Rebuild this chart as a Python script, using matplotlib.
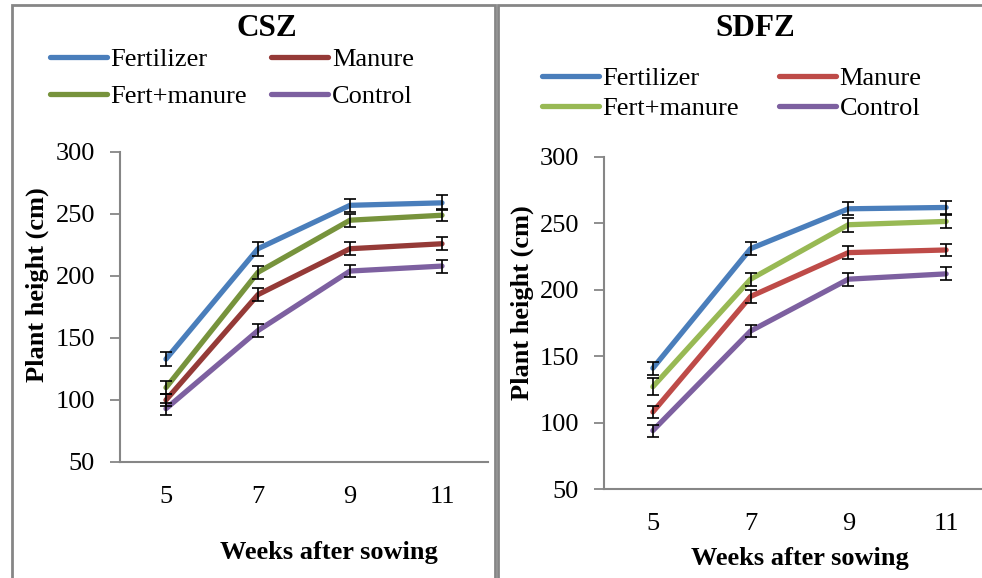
import numpy as np
import matplotlib
matplotlib.use("Agg")
import matplotlib.pyplot as plt
from matplotlib.patches import Rectangle

plt.rcParams['font.family'] = ['Liberation Serif', 'DejaVu Serif']

# Weeks after sowing
weeks = ['5', '7', '9', '11']
series = ['Fertilizer', 'Manure', 'Fert+manure', 'Control']

# CSZ plant height (cm) and error
csz_fert = [133, 222, 257, 259]
csz_manure = [100, 185, 222, 226]
csz_fm = [110, 203, 245, 249]
csz_control = [93, 156, 204, 208]
csz_fert_err = [5.8, 5.8, 5.4, 6.0]
csz_manure_err = [5.0, 5.1, 5.1, 5.1]
csz_fm_err = [5.4, 5.1, 5.1, 5.0]
csz_control_err = [4.7, 5.1, 5.0, 5.2]

# SDFZ plant height (cm) and error
sdfz_fert = [141, 231, 261, 262]
sdfz_manure = [108, 195, 228, 230]
sdfz_fm = [127, 208, 249, 251.5]
sdfz_control = [94, 169, 208, 212]
sdfz_fert_err = [5.0, 4.8, 4.8, 4.9]
sdfz_manure_err = [4.6, 4.8, 4.8, 4.8]
sdfz_fm_err = [6.5, 4.8, 5.3, 4.9]
sdfz_control_err = [4.5, 4.8, 4.8, 4.8]

csz_colors = ['#4A7EBB', '#953A37', '#77933C', '#7D60A0']
sdfz_colors = ['#4A7EBB', '#BE4B48', '#98B954', '#7D60A0']

W, H = 982, 578
fig = plt.figure(figsize=(W / 100, H / 100), dpi=100)


def px(x0, y0, x1, y1):
    # pixel box (top-left origin) -> figure fraction rect
    return [x0 / W, 1 - y1 / H, (x1 - x0) / W, (y1 - y0) / H]


# panel frames
for x0, x1 in [(12, 495), (498, 1000)]:
    fig.patches.append(Rectangle((x0 / W, -0.1), (x1 - x0) / W, 1.1 - 5 / H,
                                 transform=fig.transFigure, fill=False,
                                 edgecolor='#868686', linewidth=2))


def draw_panel(rect, title, title_xy, vals, errs, colors, leg_xy, leg_spacing,
               col_spacing, ylab_xy, xlab_xy):
    ax = fig.add_axes(rect)
    x = np.arange(len(weeks))
    handles = []
    for v, e, c, name in zip(vals, errs, colors, series):
        ln, = ax.plot(x, v, color=c, lw=3.8, solid_capstyle='round',
                      solid_joinstyle='round', label=name, zorder=2)
        ax.errorbar(x, v, yerr=e, fmt='none', ecolor='black', elinewidth=1.2,
                    capsize=4, capthick=1.2, zorder=3)
        handles.append(ln)
    ax.set_xlim(-0.5, 3.5)
    ax.set_ylim(50, 300)
    ax.set_yticks([50, 100, 150, 200, 250, 300])
    ax.set_xticks(x)
    ax.set_xticklabels(weeks)
    ax.tick_params(axis='y', direction='out', length=7, width=1.3,
                   color='#868686', labelsize=19, pad=11)
    ax.tick_params(axis='x', length=0, labelsize=19, pad=17)
    for s in ['top', 'right']:
        ax.spines[s].set_visible(False)
    for s in ['left', 'bottom']:
        ax.spines[s].set_color('#868686')
        ax.spines[s].set_linewidth(1.5)
    ax.patch.set_alpha(0)

    fig.text(title_xy[0] / W, 1 - title_xy[1] / H, title, fontsize=22.5,
             fontweight='bold', ha='center', va='center')
    fig.text(ylab_xy[0] / W, 1 - ylab_xy[1] / H, 'Plant height (cm)',
             fontsize=19, fontweight='bold', rotation=90, ha='center', va='center')
    fig.text(xlab_xy[0] / W, 1 - xlab_xy[1] / H, 'Weeks after sowing',
             fontsize=19, fontweight='bold', ha='center', va='center')

    # two-column legend, row-wise order
    order = [0, 2, 1, 3]
    fig.legend([handles[i] for i in order], [series[i] for i in order],
               ncol=2, loc='upper left',
               bbox_to_anchor=(leg_xy[0] / W, 1 - leg_xy[1] / H),
               bbox_transform=fig.transFigure, frameon=False,
               prop={'family': 'Liberation Serif', 'size': 19},
               handlelength=2.15, handletextpad=0.15, columnspacing=col_spacing,
               labelspacing=leg_spacing, borderpad=0, borderaxespad=0)
    return ax


draw_panel(px(120, 152, 488, 462), 'CSZ', (267, 29),
           [csz_fert, csz_manure, csz_fm, csz_control],
           [csz_fert_err, csz_manure_err, csz_fm_err, csz_control_err],
           csz_colors, (50, 48), 0.49, 0.9, (37, 285), (329, 553))

draw_panel(px(604, 157, 995, 489), 'SDFZ', (755, 29),
           [sdfz_fert, sdfz_manure, sdfz_fm, sdfz_control],
           [sdfz_fert_err, sdfz_manure_err, sdfz_fm_err, sdfz_control_err],
           sdfz_colors, (542, 67), 0.24, 1.5, (522, 303), (800, 558))

fig.savefig('out.png', dpi=100)
